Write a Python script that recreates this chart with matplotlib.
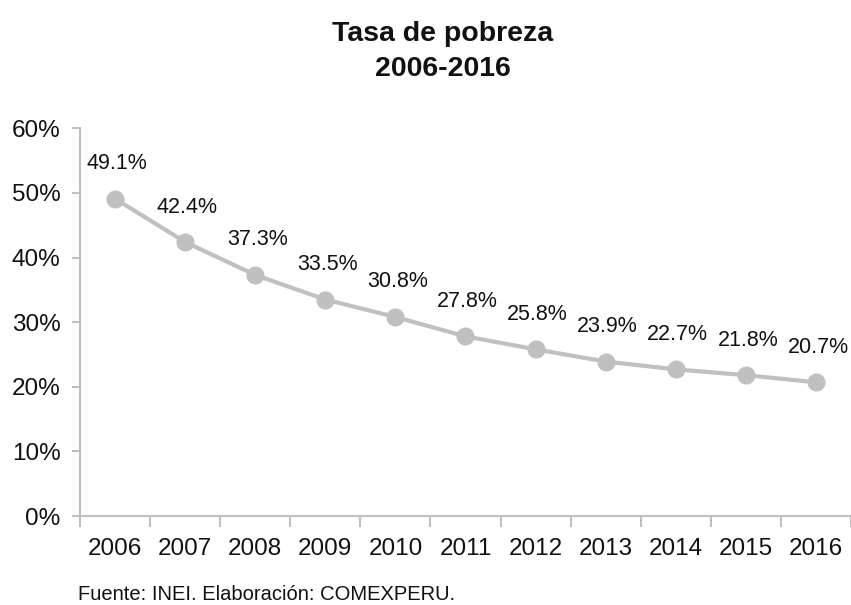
import matplotlib
matplotlib.use("Agg")
import matplotlib.pyplot as plt
from matplotlib.ticker import FuncFormatter

years = ["2006", "2007", "2008", "2009", "2010", "2011", "2012", "2013", "2014", "2015", "2016"]
pobreza = [49.1, 42.4, 37.3, 33.5, 30.8, 27.8, 25.8, 23.9, 22.7, 21.8, 20.7]
y_ticks = [0, 10, 20, 30, 40, 50, 60]

plt.rcParams['font.family'] = ['Liberation Sans', 'DejaVu Sans']
gray = "#c0c0c0"
txt = "#111111"

fig = plt.figure(figsize=(8.51, 6.05), dpi=100)
ax = fig.add_axes([0.094, 0.147, 0.906, 0.641])

x = list(range(len(years)))
ax.plot(x, pobreza, color=gray, lw=3, marker="o", markersize=12, zorder=3)

for xi, v in zip(x, pobreza):
    ax.annotate(f"{v}%", (xi, v), xytext=(2, 35), textcoords="offset pixels",
                ha="center", va="center", fontsize=15.5, color=txt)

ax.set_xlim(-0.5, len(years) - 0.5)
ax.set_ylim(0, 60)
ax.set_yticks(y_ticks)
ax.yaxis.set_major_formatter(FuncFormatter(lambda v, p: f"{int(v)}%"))

# ticks between categories, labels at centres
ax.set_xticks([i - 0.5 for i in range(len(years) + 1)])
ax.set_xticklabels([])
ax.set_xticks(x, minor=True)
ax.set_xticklabels(years, minor=True)
ax.tick_params(axis="x", which="major", length=8, color=gray, width=1.5)
ax.tick_params(axis="x", which="minor", length=0, labelsize=17.5, pad=16, labelcolor=txt)
ax.tick_params(axis="y", length=6, color=gray, width=1.5, labelsize=17.5, pad=8, labelcolor=txt)

for s in ["top", "right"]:
    ax.spines[s].set_visible(False)
for s in ["left", "bottom"]:
    ax.spines[s].set_color(gray)
    ax.spines[s].set_linewidth(1.5)

fig.text(0.52, 0.915, "Tasa de pobreza\n2006-2016", ha="center", va="center",
         fontsize=20.5, fontweight="bold", linespacing=1.45, color=txt)
fig.text(0.092, 0.018, "Fuente: INEI. Elaboración: COMEXPERU.", ha="left", va="center",
         fontsize=14.5, color=txt)

fig.savefig("out.png", dpi=100)
